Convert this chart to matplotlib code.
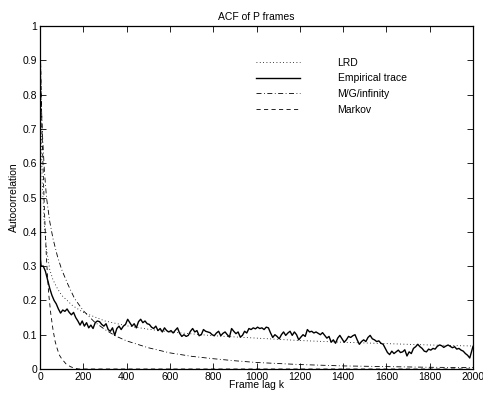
import matplotlib
matplotlib.use("Agg")
import matplotlib.pyplot as plt

# ---- data ----
emp_lag = [0, 1, 2, 5] + list(range(15, 2000, 10)) + [2000]
emp_acf = [1.0, 0.55, 0.32, 0.30,
           0.30, 0.285, 0.26, 0.235, 0.215, 0.20, 0.19, 0.175, 0.163, 0.172,
           0.168, 0.175, 0.165, 0.158, 0.165, 0.15, 0.14, 0.128, 0.14, 0.125,
           0.135, 0.12, 0.128, 0.118, 0.135, 0.14, 0.138, 0.13, 0.125, 0.132,
           0.115, 0.11, 0.12, 0.098, 0.118, 0.125, 0.115, 0.125, 0.13, 0.145,
           0.135, 0.125, 0.132, 0.12, 0.138, 0.145, 0.135, 0.14, 0.132, 0.13,
           0.122, 0.118, 0.125, 0.112, 0.118, 0.108, 0.12, 0.112, 0.108, 0.112,
           0.105, 0.113, 0.12, 0.104, 0.095, 0.1, 0.095, 0.098, 0.11, 0.118,
           0.108, 0.112, 0.097, 0.1, 0.115, 0.11, 0.108, 0.106, 0.1, 0.097,
           0.105, 0.11, 0.097, 0.104, 0.108, 0.1, 0.093, 0.118, 0.11, 0.103,
           0.108, 0.093, 0.098, 0.11, 0.105, 0.118, 0.115, 0.12, 0.117, 0.122,
           0.118, 0.12, 0.115, 0.122, 0.12, 0.105, 0.092, 0.1, 0.095, 0.088,
           0.1, 0.108, 0.098, 0.105, 0.11, 0.098, 0.108, 0.1, 0.085, 0.093,
           0.1, 0.095, 0.115, 0.108, 0.11, 0.105, 0.108, 0.104, 0.1, 0.106,
           0.098, 0.09, 0.095, 0.078, 0.085, 0.075, 0.09, 0.098, 0.088, 0.078,
           0.085, 0.095, 0.092, 0.097, 0.1, 0.085, 0.072, 0.08, 0.085, 0.08,
           0.092, 0.098, 0.088, 0.085, 0.08, 0.082, 0.075, 0.072, 0.06, 0.048,
           0.042, 0.052, 0.045, 0.05, 0.055, 0.048, 0.05, 0.056, 0.038, 0.05,
           0.045, 0.06, 0.065, 0.072, 0.065, 0.06, 0.052, 0.05, 0.058, 0.055,
           0.06, 0.058, 0.066, 0.07, 0.068, 0.063, 0.067, 0.07, 0.066, 0.062,
           0.065, 0.058, 0.06, 0.055, 0.052, 0.045, 0.04, 0.032, 0.055, 0.066]

lrd_lag = [0, 2, 5, 10, 20, 30, 45, 60, 80, 100, 150, 200, 300, 400, 500,
           600, 800, 1000, 1200, 1400, 1600, 1800, 2000]
lrd_acf = [1.0, 0.95, 0.72, 0.55, 0.42, 0.35, 0.29, 0.26, 0.235, 0.215, 0.185,
           0.165, 0.14, 0.126, 0.116, 0.108, 0.097, 0.09, 0.083, 0.078, 0.074,
           0.07, 0.067]

mg_lag = [0, 5, 10, 20, 30, 45, 60, 80, 100, 130, 160, 200, 250, 300, 350,
          400, 500, 600, 700, 800, 900, 1000, 1200, 1400, 1600, 1800, 2000]
mg_acf = [1.0, 0.80, 0.70, 0.58, 0.50, 0.43, 0.38, 0.33, 0.29, 0.245, 0.205,
          0.17, 0.138, 0.115, 0.096, 0.082, 0.062, 0.047, 0.037, 0.030, 0.024,
          0.019, 0.013, 0.009, 0.007, 0.005, 0.004]

mk_lag = [0, 5, 10, 15, 20, 25, 30, 35, 40, 50, 60, 70, 80, 90, 100, 120,
          140, 160, 180, 2000]
mk_acf = [1.0, 0.82, 0.68, 0.57, 0.47, 0.39, 0.32, 0.27, 0.22, 0.16, 0.115,
          0.08, 0.058, 0.04, 0.03, 0.015, 0.007, 0.002, 0.0, 0.0]

x_ticks = list(range(0, 2001, 200))
y_ticks = [0, 0.1, 0.2, 0.3, 0.4, 0.5, 0.6, 0.7, 0.8, 0.9, 1]
y_tick_labels = ["0", "0.1", "0.2", "0.3", "0.4", "0.5", "0.6", "0.7", "0.8", "0.9", "1"]

# ---- figure ----
plt.rcParams['font.family'] = ['Liberation Sans', 'DejaVu Sans']
fs = 7.5
fig = plt.figure(figsize=(4.83, 3.94), dpi=100)
ax = fig.add_axes([40 / 483, 1 - 369 / 394, 433 / 483, 343 / 394])

ax.plot(lrd_lag, lrd_acf, color='black', lw=0.6, linestyle=(0, (1, 3)), label='LRD')
ax.plot(emp_lag, emp_acf, color='black', lw=1.0, linestyle='-', label='Empirical trace')
ax.plot(mg_lag, mg_acf, color='black', lw=0.6, linestyle=(0, (6, 3, 1, 3)), label='M/G/infinity')
ax.plot(mk_lag, mk_acf, color='black', lw=0.6, linestyle=(0, (5, 4)), label='Markov')

ax.set_xlim(0, 2000)
ax.set_ylim(0, 1)
ax.set_xticks(x_ticks)
ax.set_xticklabels([str(t) for t in x_ticks], fontsize=fs)
ax.set_yticks(y_ticks)
ax.set_yticklabels(y_tick_labels, fontsize=fs)
ax.tick_params(direction='in', length=4, width=0.6, top=True, right=True, pad=2)
for s in ax.spines.values():
    s.set_linewidth(0.9)

ax.set_title('ACF of P frames', fontsize=fs, pad=4.5)
ax.set_xlabel('Frame lag k', fontsize=fs, labelpad=-1)
ax.set_ylabel('Autocorrelation', fontsize=fs, labelpad=3)

ax.legend(loc='upper left', bbox_to_anchor=(0.478, 0.935), frameon=False, fontsize=fs,
          handlelength=4.2, handletextpad=3.6, labelspacing=0.55)

fig.savefig('out.png', dpi=100)
